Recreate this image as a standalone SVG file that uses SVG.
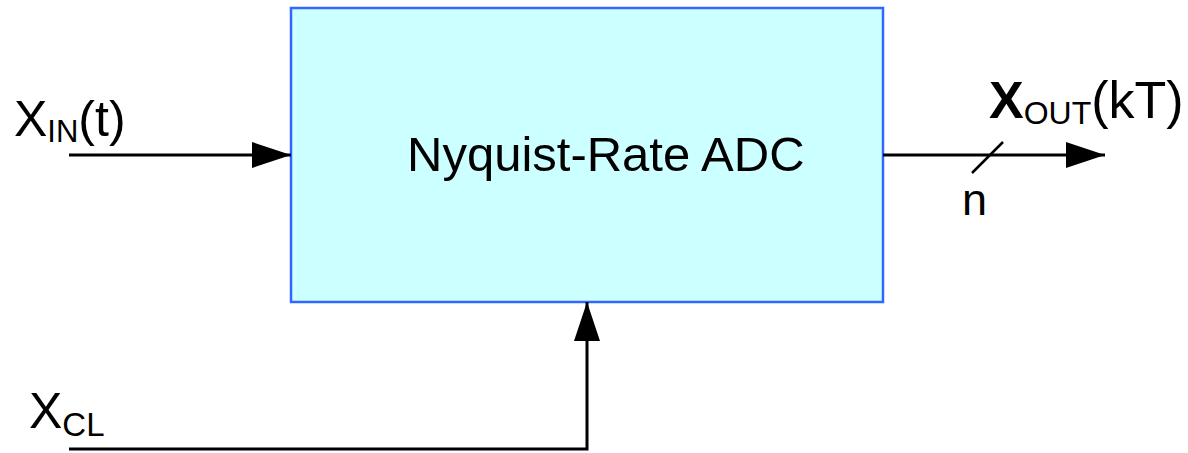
<svg xmlns="http://www.w3.org/2000/svg" width="1188" height="453" viewBox="0 0 1188 453">
<style>
.t{font-family:"Liberation Sans",Arial,sans-serif;fill:#000}
.w{stroke:#000;stroke-width:3;fill:none}
</style>
<defs>
<marker id="ah" markerUnits="userSpaceOnUse" markerWidth="40" markerHeight="28" refX="39" refY="13" orient="auto" viewBox="0 0 40 26">
<path d="M0,0 L39,13 L0,26 Z" fill="#000"/>
</marker>
</defs>
<rect width="1188" height="453" fill="#fff"/>
<g id="adc">
<rect x="291" y="8" width="592" height="294" fill="#ccffff" stroke="#3366ff" stroke-width="2.5"/>
<text class="t" x="407" y="171" font-size="49">Nyquist-Rate ADC</text>
</g>
<g id="connectors">
<line class="w" x1="69" y1="155" x2="291" y2="155" marker-end="url(#ah)"/>
<line class="w" x1="883" y1="155" x2="1105" y2="155" marker-end="url(#ah)"/>
<line x1="972" y1="173" x2="1003" y2="142" stroke="#000" stroke-width="2.5"/>
<polyline class="w" points="69,449 587,449 587,302" marker-end="url(#ah)"/>
</g>
<g id="xin">
<text class="t" x="14" y="136" font-size="50">X<tspan font-size="31" dy="6">IN</tspan><tspan dy="-6">(t)</tspan></text>
</g>
<g id="xout">
<text class="t" x="989" y="118" font-size="52"><tspan font-weight="bold">X</tspan><tspan font-size="32" dy="6">OUT</tspan><tspan dy="-6">(kT)</tspan></text>
</g>
<g id="n">
<text class="t" x="962" y="215" font-size="45">n</text>
</g>
<g id="xcl">
<text class="t" x="29" y="428" font-size="50">X<tspan font-size="33" dy="8">CL</tspan></text>
</g>
</svg>
